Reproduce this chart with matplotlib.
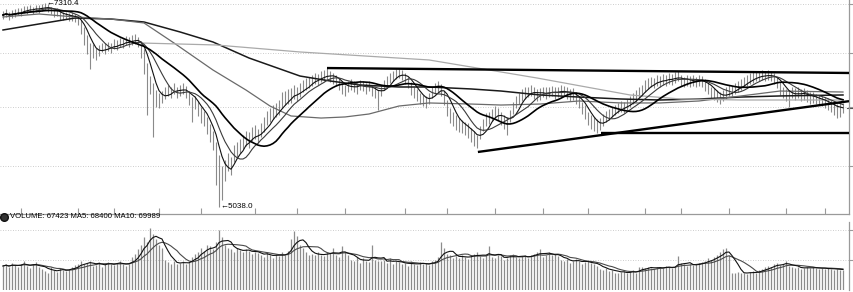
import numpy as np
import pandas as pd
import matplotlib
matplotlib.use("Agg")
import matplotlib.pyplot as plt
from matplotlib.lines import Line2D

# ---------------- data ----------------
close = [
    7177, 7199, 7166, 7188, 7210, 7221, 7210, 7244, 7233, 7255,
    7233, 7255, 7244, 7266, 7277, 7255, 7233, 7199, 7210, 7177,
    7166, 7177, 7155, 7166, 7143, 7121, 7032, 6921, 6843, 6765,
    6787, 6742, 6787, 6820, 6798, 6832, 6809, 6854, 6843, 6876,
    6865, 6898, 6876, 6898, 6910, 6887, 6809, 6653, 6475, 6397,
    6319, 6252, 6230, 6275, 6308, 6341, 6319, 6364, 6319, 6341,
    6364, 6319, 6252, 6174, 6208, 6141, 6063, 6029, 5951, 5874,
    5762, 5617, 5394, 5361, 5472, 5562, 5506, 5651, 5673, 5729,
    5762, 5807, 5784, 5851, 5874, 5829, 5896, 5951, 6029, 6063,
    6096, 6119, 6141, 6230, 6252, 6275, 6286, 6319, 6297, 6341,
    6386, 6408, 6431, 6453, 6475, 6464, 6497, 6508, 6520, 6497,
    6475, 6453, 6408, 6364, 6341, 6386, 6408, 6386, 6364, 6397,
    6386, 6364, 6386, 6341, 6319, 6275, 6341, 6397, 6453, 6475,
    6497, 6520, 6531, 6508, 6475, 6431, 6364, 6319, 6286, 6252,
    6230, 6208, 6252, 6319, 6364, 6386, 6341, 6252, 6141, 6063,
    6029, 5985, 5951, 5940, 5918, 5896, 5840, 5807, 5762, 5874,
    5951, 6007, 6029, 6063, 6096, 6074, 6029, 5985, 5963, 6063,
    6141, 6208, 6252, 6286, 6308, 6319, 6341, 6308, 6286, 6297,
    6319, 6308, 6319, 6330, 6308, 6319, 6341, 6330, 6308, 6286,
    6297, 6252, 6208, 6141, 6096, 6029, 5985, 5963, 5940, 5963,
    6007, 6052, 6074, 6096, 6119, 6141, 6163, 6152, 6185, 6208,
    6252, 6275, 6319, 6341, 6386, 6408, 6431, 6419, 6453, 6442,
    6464, 6453, 6475, 6464, 6486, 6497, 6453, 6431, 6453, 6442,
    6453, 6431, 6453, 6442, 6397, 6364, 6319, 6297, 6275, 6252,
    6286, 6308, 6341, 6330, 6364, 6386, 6408, 6431, 6453, 6475,
    6486, 6497, 6497, 6508, 6497, 6508, 6497, 6475, 6431, 6364,
    6319, 6286, 6275, 6319, 6297, 6319, 6286, 6297, 6275, 6252,
    6263, 6241, 6230, 6219, 6197, 6185, 6163, 6141, 6119, 6152, 6141,
]
high = [
    7225, 7240, 7215, 7230, 7245, 7260, 7250, 7280, 7275, 7290,
    7270, 7290, 7285, 7300, 7310.4, 7295, 7270, 7245, 7250, 7220,
    7210, 7215, 7195, 7205, 7185, 7165, 7125, 7040, 6950, 6860,
    6850, 6810, 6840, 6870, 6860, 6880, 6865, 6905, 6895, 6925,
    6915, 6945, 6930, 6950, 6960, 6935, 6890, 6800, 6640, 6500,
    6420, 6340, 6310, 6330, 6370, 6400, 6380, 6420, 6380, 6395,
    6420, 6390, 6330, 6260, 6270, 6220, 6150, 6110, 6040, 5960,
    5880, 5760, 5620, 5500, 5560, 5640, 5600, 5730, 5760, 5800,
    5840, 5880, 5870, 5930, 5950, 5910, 5970, 6040, 6110, 6140,
    6170, 6200, 6230, 6320, 6330, 6350, 6360, 6400, 6380, 6420,
    6450, 6470, 6490, 6510, 6530, 6520, 6550, 6560, 6586, 6550,
    6530, 6510, 6470, 6420, 6400, 6440, 6460, 6440, 6420, 6450,
    6440, 6420, 6440, 6400, 6380, 6340, 6400, 6450, 6500, 6530,
    6550, 6570, 6580, 6560, 6530, 6490, 6430, 6380, 6350, 6310,
    6290, 6270, 6310, 6370, 6420, 6440, 6410, 6330, 6230, 6140,
    6100, 6060, 6030, 6010, 5990, 5970, 5920, 5880, 5840, 5940,
    6020, 6080, 6100, 6130, 6160, 6140, 6100, 6060, 6040, 6120,
    6210, 6270, 6310, 6350, 6370, 6380, 6400, 6370, 6350, 6360,
    6380, 6370, 6380, 6390, 6370, 6380, 6400, 6390, 6370, 6350,
    6360, 6320, 6270, 6210, 6170, 6100, 6060, 6040, 6020, 6030,
    6070, 6110, 6130, 6150, 6170, 6200, 6220, 6210, 6240, 6270,
    6310, 6340, 6380, 6400, 6450, 6470, 6490, 6480, 6510, 6500,
    6520, 6510, 6530, 6520, 6540, 6550, 6510, 6490, 6510, 6500,
    6510, 6490, 6510, 6500, 6460, 6420, 6380, 6360, 6340, 6320,
    6340, 6370, 6400, 6390, 6420, 6440, 6460, 6490, 6510, 6530,
    6540, 6550, 6550, 6560, 6550, 6560, 6550, 6530, 6490, 6430,
    6380, 6350, 6340, 6380, 6360, 6380, 6350, 6360, 6340, 6320,
    6320, 6300, 6290, 6280, 6260, 6250, 6230, 6210, 6190, 6210, 6200,
]
low = [
    7130, 7150, 7120, 7140, 7160, 7175, 7165, 7195, 7190, 7210,
    7190, 7210, 7200, 7220, 7230, 7205, 7185, 7150, 7165, 7125,
    7120, 7130, 7110, 7115, 7095, 7060, 6960, 6840, 6740, 6575,
    6700, 6680, 6720, 6760, 6740, 6780, 6750, 6800, 6790, 6820,
    6810, 6845, 6820, 6845, 6855, 6820, 6700, 6520, 6063, 6300,
    5818, 6150, 6140, 6200, 6240, 6280, 6250, 6300, 6250, 6280,
    6300, 6250, 6170, 5985, 6130, 6050, 5970, 5940, 5850, 5760,
    5673, 5280, 5038.0, 5120, 5330, 5440, 5400, 5540, 5580, 5640,
    5680, 5720, 5700, 5770, 5800, 5750, 5820, 5870, 5950, 5990,
    6020, 6040, 6060, 6140, 6170, 6190, 6200, 6240, 6220, 6260,
    6320, 6340, 6360, 6390, 6410, 6400, 6430, 6440, 6450, 6430,
    6410, 6390, 6340, 6300, 6280, 6320, 6340, 6320, 6300, 6340,
    6330, 6300, 6330, 6280, 6250, 6119, 6280, 6340, 6390, 6420,
    6440, 6460, 6470, 6450, 6410, 6360, 6290, 6250, 6220, 6180,
    6160, 6140, 6180, 6250, 6300, 6320, 6270, 6170, 6050, 5970,
    5940, 5900, 5870, 5860, 5840, 5810, 5760, 5720, 5695, 5800,
    5880, 5940, 5960, 6000, 6030, 6010, 5950, 5910, 5840, 5990,
    6070, 6140, 6190, 6220, 6240, 6260, 6280, 6240, 6220, 6230,
    6260, 6240, 6260, 6270, 6240, 6260, 6280, 6270, 6240, 6220,
    6230, 6180, 6140, 6070, 6020, 5950, 5910, 5890, 5863, 5900,
    5940, 5990, 6010, 6040, 6060, 6080, 6100, 6090, 6120, 6150,
    6190, 6210, 6250, 6280, 6320, 6350, 6370, 6360, 6390, 6380,
    6400, 6390, 6410, 6400, 6420, 6440, 6390, 6370, 6390, 6380,
    6390, 6370, 6390, 6380, 6330, 6300, 6250, 6230, 6210, 6180,
    6220, 6240, 6280, 6270, 6300, 6320, 6340, 6370, 6390, 6410,
    6420, 6440, 6440, 6450, 6440, 6450, 6440, 6410, 6360, 6290,
    6250, 6220, 6152, 6250, 6230, 6250, 6220, 6230, 6210, 6190,
    6200, 6180, 6170, 6160, 6140, 6120, 6100, 6060, 6030, 6040, 6090,
]
# volume in thousands
volume_k = [
    80, 85, 75, 90, 82, 78, 88, 95, 80, 72, 86, 92, 78,
    70, 62, 58, 75, 65, 60, 72, 68, 64, 70,
    76, 82, 88, 95, 85, 90, 98, 80, 84, 92, 78, 86, 94, 88, 82, 90, 96, 85, 80, 88,
    110, 120, 135,
    150, 175, 160, 205, 185, 170, 150, 140,
    100, 92, 88, 95, 85, 90, 98, 86, 94,
    110, 120, 125, 140, 130, 150, 145, 135, 160, 200, 175, 150, 140,
    135, 128, 140, 132, 125, 138, 130, 120, 128, 122,
    118, 110, 125, 115, 108, 120, 112, 125, 118, 130,
    170, 195, 180, 150,
    140, 125, 115,
    120, 115, 125, 118, 112, 128, 122, 140, 115, 110, 145, 125, 118,
    100, 95, 110, 90, 105, 98, 92, 150, 100, 95,
    95, 100, 90, 105, 88, 98, 92,
    85, 90, 80, 95, 88, 82, 92, 86, 90, 84, 95, 100, 110,
    160, 140, 120,
    115, 108, 112, 105, 118, 110, 104, 116, 120, 125, 112,
    108, 115, 145, 110, 105, 118, 112, 100, 108, 115, 120, 110, 105,
    112, 118, 108, 115, 120, 126, 135, 110, 118, 125, 115, 120, 112,
    100, 95, 102, 90, 98, 104, 95, 88, 92, 96, 90, 85, 80,
    70, 65, 72, 62, 68,
    58, 55, 60, 62, 56, 60, 65, 58, 75,
    78, 72, 76, 74, 70, 78, 75, 72, 80, 76, 74, 78, 112,
    90, 85, 80, 88, 82, 85, 90,
    92, 98, 105, 100, 110, 118, 125, 135, 140, 115,
    58, 55, 60, 56, 58, 54, 60, 62, 58, 65,
    70, 75, 80, 78, 85, 90, 82, 88, 95, 80,
    75, 72, 78, 70, 74, 76, 72, 78,
    72, 70, 73, 71, 71.89,
    70, 68, 69, 67.577, 67.423,
]

# longer moving averages (bar index, value)
ma_long_a_idx = [0, 12, 24, 36, 47, 59, 70, 82, 99, 109, 119, 132, 142, 156,
                 166, 179, 192, 206, 219, 232, 246, 259, 280]
ma_long_a_val = [7010, 7077, 7143, 7132, 7099, 6988, 6876, 6698, 6497, 6442,
                 6397, 6375, 6375, 6353, 6330, 6286, 6263, 6241, 6230, 6241,
                 6263, 6275, 6286]
ma_long_b_idx = [0, 12, 24, 36, 47, 57, 70, 81, 89, 96, 106, 114, 122, 132,
                 142, 156, 166, 179, 192, 206, 219, 232, 246, 259, 280]
ma_long_b_val = [7155, 7188, 7155, 7132, 7088, 6865, 6564, 6341, 6163, 6052,
                 6029, 6041, 6074, 6163, 6197, 6185, 6174, 6185, 6219, 6197,
                 6197, 6219, 6275, 6330, 6319]
ma_long_c_idx = [46, 71, 99, 142, 156, 178, 209, 226, 246, 266, 280]
ma_long_c_val = [6865, 6843, 6765, 6676, 6598, 6475, 6286, 6241, 6230, 6230, 6230]

# drawn trend lines (bar index, price)
trend_top_x, trend_top_y = [108, 282], [6586, 6531]
trend_rise_x, trend_rise_y = [158.3, 282], [5651, 6217]
trend_flat_x, trend_flat_y = [199.3, 282], [5863, 5863]

month_ticks = [6, 25, 37, 52, 66, 84, 98, 114, 134, 148, 164, 180, 195, 214,
               226, 242, 261, 274]
price_grid = [7300, 6750, 6150, 5500]
volume_grid = [100000, 200000]

# ---------------- figure ----------------
W, H = 854, 292
fig = plt.figure(figsize=(W / 100, H / 100), dpi=100)
fig.patch.set_facecolor("white")


def frac(x0, y0, x1, y1):
    return [x0 / W, 1 - y1 / H, (x1 - x0) / W, (y1 - y0) / H]


ax = fig.add_axes(frac(0, 0, 849, 214))
axv = fig.add_axes(frac(0, 222, 849, 290))

n = len(close)
x = np.arange(n)
c = pd.Series(close, dtype=float)

# price bars
ax.vlines(x, low, high, color="#8a8a8a", lw=0.8, zorder=2)

# short moving averages
ma5 = c.rolling(5, min_periods=1).mean()
ma10 = c.rolling(10, min_periods=1).mean()
ma20 = c.rolling(20, min_periods=1).mean()
ax.plot(x, ma5, color="#111111", lw=0.8, zorder=4)
ax.plot(x, ma10, color="#3a3a3a", lw=0.8, zorder=4)
ax.plot(x, ma20, color="#000000", lw=1.2, zorder=4)

# long moving averages
ax.plot(ma_long_a_idx, ma_long_a_val, color="#1a1a1a", lw=1.1, zorder=3)
ax.plot(ma_long_b_idx, ma_long_b_val, color="#6a6a6a", lw=0.9, zorder=3)
ax.plot(ma_long_c_idx, ma_long_c_val, color="#aaaaaa", lw=0.9, zorder=3)

# trend lines
for tx, ty in [(trend_top_x, trend_top_y), (trend_rise_x, trend_rise_y),
               (trend_flat_x, trend_flat_y)]:
    ax.plot(tx, ty, color="black", lw=1.7, zorder=5, solid_capstyle="butt")

ax.set_xlim(-1, 282)
ax.set_ylim(4960, 7344)
ax.set_yticks(price_grid)
ax.set_yticklabels([])
ax.yaxis.tick_right()
ax.set_xticks(month_ticks)
ax.set_xticklabels([])
ax.tick_params(axis="x", direction="in", length=4, color="#9a9a9a", width=0.8)
ax.tick_params(axis="y", direction="out", length=3, color="#9a9a9a", width=0.8)
ax.grid(axis="y", linestyle=(0, (1, 2)), color="#bdbdbd", lw=0.6)
for s in ["top", "left"]:
    ax.spines[s].set_visible(False)
for s in ["bottom", "right"]:
    ax.spines[s].set_color("#9a9a9a")
    ax.spines[s].set_linewidth(0.9)
ax.set_facecolor("white")

# high / low labels
fam = ["Liberation Sans", "DejaVu Sans"]
imax = int(np.argmax(high))
imin = int(np.argmin(low))
ax.text(imax + 0.6, high[imax], "\u2190" + f"{high[imax]:.1f}", fontsize=5.8,
        family=fam, va="center", ha="left", zorder=6)
ax.text(imin + 0.6, low[imin], "\u2190" + f"{low[imin]:.1f}", fontsize=5.8,
        family=fam, va="center", ha="left", zorder=6)

# last price marker on the right axis
ax.plot([281.3, 283.5], [close[-1], close[-1]], color="#555555", lw=0.8,
        clip_on=False)

# ---------------- volume ----------------
vol = np.array(volume_k, dtype=float) * 1000
v = pd.Series(vol)
vma5 = v.rolling(5, min_periods=1).mean()
vma10 = v.rolling(10, min_periods=1).mean()
axv.vlines(x, 0, vol, color="#8c8c8c", lw=0.9, zorder=2)
axv.plot(x, vma10, color="#4a4a4a", lw=0.8, zorder=3)
axv.plot(x, vma5, color="#111111", lw=0.8, zorder=4)
axv.set_xlim(-1, 282)
axv.set_ylim(0, 226600)
axv.set_yticks(volume_grid)
axv.set_yticklabels([])
axv.yaxis.tick_right()
axv.set_xticks([])
axv.tick_params(axis="y", direction="out", length=3, color="#9a9a9a", width=0.8)
axv.grid(axis="y", linestyle=(0, (1, 2)), color="#bdbdbd", lw=0.6)
for s in ["top", "left", "bottom"]:
    axv.spines[s].set_visible(False)
axv.spines["right"].set_color("#9a9a9a")
axv.spines["right"].set_linewidth(0.9)

header = (f"VOLUME: {vol[-1]:.0f} MA5: {vma5.iloc[-1]:.0f} "
          f"MA10: {vma10.iloc[-1]:.0f}")
fig.add_artist(Line2D([4.5 / W], [1 - 217 / H], marker="o", ms=5.5,
                      color="#333333", markeredgecolor="#111111",
                      transform=fig.transFigure))
fig.text(10 / W, 1 - 217 / H, header, fontsize=5.6, family=fam,
         va="center", ha="left", color="black")

fig.savefig("out.png", dpi=100, facecolor="white")
